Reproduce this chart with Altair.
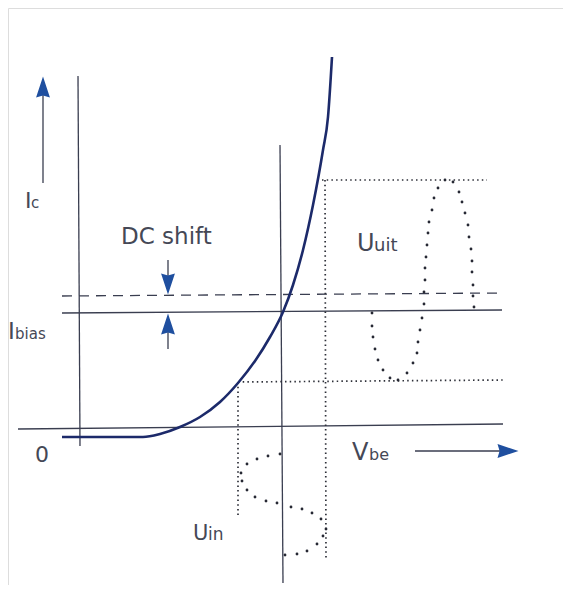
import altair as alt
import pandas as pd

# ---------------- data (diagram coordinates) ----------------
# I_c(V_be) characteristic curve
curve_x = [62, 143, 160, 180, 200, 220, 238, 255, 270, 283, 293, 303, 313, 323, 328, 332]
curve_y = [437, 437, 434, 427, 417, 402, 383, 361, 337, 312, 285, 250, 205, 150, 117, 57]

# thin solid lines: axes, bias level, arrow shafts
solid_x1 = [78, 280, 62, 18, 43, 168, 168, 415]
solid_y1 = [76, 145, 313, 429, 183, 260, 349, 451]
solid_x2 = [80, 283, 502, 503, 43, 168, 168, 505]
solid_y2 = [446, 583, 310, 424, 95, 280, 330, 451]

# dashed line: shifted DC level
dash_x1 = [62]
dash_y1 = [296]
dash_x2 = [502]
dash_y2 = [293]

# dotted projection lines
dot_x1 = [322, 325, 238, 238]
dot_y1 = [180, 180, 382, 382]
dot_x2 = [487, 326, 503, 238]
dot_y2 = [180, 560, 380, 518]

# input signal U_in (dotted sine along V_be)
uin_x = [280, 268, 257, 247, 241, 242, 247, 255, 266, 277, 291, 302, 312, 321, 326, 323, 317, 307, 297, 285]
uin_y = [454, 456, 459, 464, 473, 481, 490, 497, 501, 503, 507, 509, 513, 519, 529, 536, 544, 551, 554, 555]

# output signal U_uit (dotted sine along I_c)
uuit_x = [372, 372, 373, 375, 378, 383, 390, 398, 407, 413, 417, 418, 420, 422, 424, 424, 425, 425, 426,
          427, 428, 429, 432, 434, 438, 445, 453, 459, 462, 465, 468, 469, 471, 472, 472, 473, 473, 474]
uuit_y = [313, 326, 337, 349, 360, 370, 378, 380, 373, 363, 353, 342, 330, 318, 304, 292, 280, 268, 257,
          245, 233, 222, 210, 198, 188, 180, 182, 192, 202, 213, 225, 237, 249, 261, 272, 285, 296, 307]

# arrowheads (centre, direction)
head_x = [43, 168, 168, 508]
head_y = [87, 284, 324, 451]
head_angle = [0, 180, 0, 90]

# labels: main letters and subscripts
lab_text = ["I", "c", "DC shift", "U", "uit", "I", "bias", "0", "V", "be", "U", "in"]
lab_x = [25, 31, 121, 357, 374, 8, 15, 35, 352, 369, 193, 208]
lab_y = [208, 208, 244, 251, 251, 339, 339, 462, 460, 460, 540, 540]
lab_size = [22, 15, 23, 24, 18, 23, 15, 22, 24, 16, 21, 17]

# ---------------- chart ----------------
XD = [8, 563]
YD = [8, 585]
xs = alt.Scale(domain=XD, nice=False, zero=False)
ys = alt.Scale(domain=YD, nice=False, zero=False, reverse=True)

LINE = "#3a3e50"
NAVY = "#1c2a6a"
BLUE = "#1f4f9f"
TXT = "#454856"


def seg_df(x1, y1, x2, y2):
    return pd.DataFrame({"x": x1, "y": y1, "x2": x2, "y2": y2})


def rules(df, **kw):
    return alt.Chart(df).mark_rule(**kw).encode(
        x=alt.X("x:Q", scale=xs, axis=None),
        y=alt.Y("y:Q", scale=ys, axis=None),
        x2="x2:Q",
        y2="y2:Q",
    )


solid = rules(seg_df(solid_x1, solid_y1, solid_x2, solid_y2), color=LINE, strokeWidth=1.3)
dashed = rules(seg_df(dash_x1, dash_y1, dash_x2, dash_y2), color=LINE, strokeWidth=1.3,
               strokeDash=[10, 7])
dotted = rules(seg_df(dot_x1, dot_y1, dot_x2, dot_y2), color="#2e3039", strokeWidth=1.7,
               strokeDash=[1.5, 3.2], strokeCap="butt")

curve_df = pd.DataFrame({"x": curve_x, "y": curve_y, "i": range(len(curve_x))})
curve = alt.Chart(curve_df).mark_line(color=NAVY, strokeWidth=2.6, interpolate="monotone").encode(
    x=alt.X("x:Q", scale=xs, axis=None),
    y=alt.Y("y:Q", scale=ys, axis=None),
    order="i:Q",
)

sine_df = pd.DataFrame({"x": uin_x + uuit_x, "y": uin_y + uuit_y})
sines = alt.Chart(sine_df).mark_circle(color="#262833", size=8, opacity=1).encode(
    x=alt.X("x:Q", scale=xs, axis=None),
    y=alt.Y("y:Q", scale=ys, axis=None),
)

head_df = pd.DataFrame({"x": head_x, "y": head_y, "a": head_angle})
heads = alt.Chart(head_df).mark_point(
    shape="M0,-1L0.66,1L0,0.8L-0.66,1Z", filled=True, color=BLUE, opacity=1, size=441, strokeWidth=0
).encode(
    x=alt.X("x:Q", scale=xs, axis=None),
    y=alt.Y("y:Q", scale=ys, axis=None),
    angle=alt.Angle("a:Q", scale=None),
)

lab_df = pd.DataFrame({"t": lab_text, "x": lab_x, "y": lab_y, "s": lab_size})
labels = alt.Chart(lab_df).mark_text(
    align="left", baseline="alphabetic", font="DejaVu Sans", color=TXT
).encode(
    x=alt.X("x:Q", scale=xs, axis=None),
    y=alt.Y("y:Q", scale=ys, axis=None),
    text="t:N",
    size=alt.Size("s:Q", scale=None),
)

chart = alt.layer(solid, dashed, dotted, curve, sines, heads, labels).properties(
    width=555, height=577, padding=0, autosize=alt.AutoSizeParams(type="none")
).configure_view(stroke=None).configure(background="white")

chart.save("out.html", embed_options={"renderer": "svg", "actions": False})
